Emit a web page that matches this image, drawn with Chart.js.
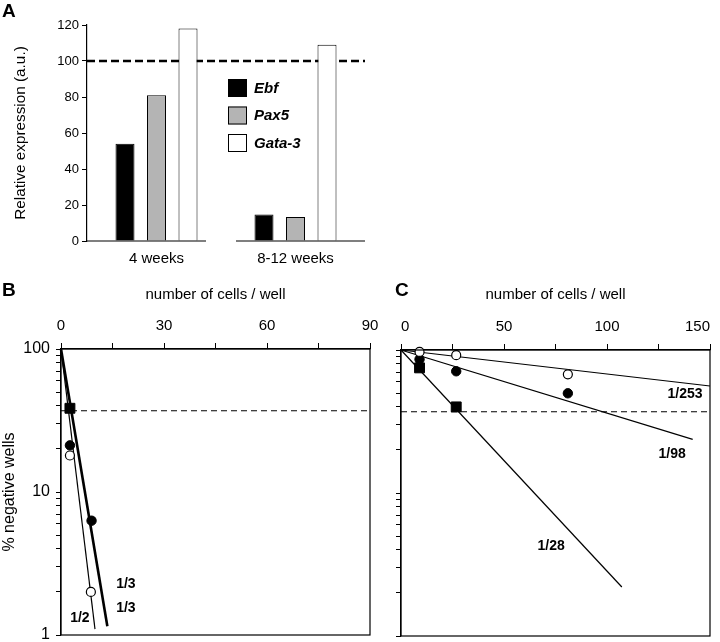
<!DOCTYPE html>
<html><head><meta charset="utf-8">
<script src="https://cdn.jsdelivr.net/npm/chart.js@4/dist/chart.umd.min.js"></script>
<style>
html,body{margin:0;padding:0;background:#fff;}
body{width:720px;height:642px;position:relative;overflow:hidden;font-family:'Liberation Sans',Arial,sans-serif;}
.panel{position:absolute;}
.letter{position:absolute;font-weight:bold;font-size:19px;line-height:20px;color:#000;}
</style></head><body>
<div class="panel" style="left:0;top:0;width:380px;height:271px"><canvas id="chartA" width="380" height="271"></canvas></div>
<div class="panel" style="left:0;top:280px;width:380px;height:362px"><canvas id="chartB" width="380" height="362"></canvas></div>
<div class="panel" style="left:380px;top:280px;width:340px;height:362px"><canvas id="chartC" width="340" height="362"></canvas></div>
<div class="letter" style="left:2px;top:1px">A</div>
<div class="letter" style="left:2px;top:280px">B</div>
<div class="letter" style="left:395px;top:280px">C</div>
<script>
// ---------- Panel A data ----------
const categoriesA = ['4 weeks', '8-12 weeks'];
const ebfValues = [54, 14.7];
const pax5Values = [81, 13.3];
const gata3Values = [118, 109];
const referenceA = 100;
const yTicksA = [0, 20, 40, 60, 80, 100, 120];

// ---------- Panel B data ----------
const bSquareCells = [2.6];
const bSquareNeg = [38.5];
const bFilledCells = [2.6, 8.9];
const bFilledNeg = [21.2, 6.3];
const bOpenCells = [2.6, 8.7];
const bOpenNeg = [18, 2.0];
const bFitThirdCells = [0, 13.5];
const bFitThirdNeg = [100, 1.15];
const bFitHalfCells = [0, 9.9];
const bFitHalfNeg = [100, 1.1];
const bLabelText = ['1/3', '1/3', '1/2'];
const bLabelCells = [18.9, 18.9, 5.5];
const bLabelNeg = [2.25, 1.55, 1.32];
const bXTickLabels = [0, 30, 60, 90];
const bYTickLabels = [1, 10, 100];
const referenceB = 37;

// ---------- Panel C data ----------
const cOpenCells = [9, 26.8, 81];
const cOpenNeg = [97, 92, 67.6];
const cFilledCells = [9, 26.8, 81];
const cFilledNeg = [86, 71, 49.8];
const cSquareCells = [9, 26.8];
const cSquareNeg = [75, 40];
const cFit253Cells = [0, 150];
const cFit253Neg = [100, 56];
const cFit98Cells = [0, 141.6];
const cFit98Neg = [100, 23.7];
const cFit28Cells = [0, 107.2];
const cFit28Neg = [100, 2.2];
const cLabelText = ['1/253', '1/98', '1/28'];
const cLabelCells = [137.9, 131.6, 72.9];
const cLabelNeg = [49.2, 18.7, 4.26];
const cXTickLabels = [0, 50, 100, 150];
const referenceC = 37;

Chart.defaults.font.family = "'Liberation Sans', Arial, sans-serif";
Chart.defaults.color = '#000';

const pts = (xs, ys) => xs.map((x, i) => ({x: x, y: ys[i]}));

// ---------- plugins ----------
const refLinePlugin = (value, width, dash) => ({
  id: 'refLine',
  beforeDatasetsDraw(chart) {
    const {ctx, chartArea} = chart;
    const y = chart.scales.y.getPixelForValue(value);
    ctx.save();
    ctx.strokeStyle = '#000';
    ctx.lineWidth = width;
    ctx.setLineDash(dash);
    ctx.beginPath();
    ctx.moveTo(chartArea.left, y);
    ctx.lineTo(chartArea.right, y);
    ctx.stroke();
    ctx.restore();
  }
});

const baselinePlugin = {
  id: 'splitBaseline',
  afterDraw(chart) {
    const {ctx, chartArea} = chart;
    const xs = chart.scales.x;
    const y0 = chart.scales.y.getPixelForValue(0);
    const n = xs.ticks.length;
    const w = (chartArea.right - chartArea.left) / n;
    ctx.save();
    ctx.strokeStyle = '#000';
    ctx.lineWidth = 1.2;
    for (let i = 0; i < n; i++) {
      const a = i === 0 ? chartArea.left : chartArea.left + i * w + 10;
      const b = i === n - 1 ? chartArea.right : chartArea.left + (i + 1) * w - 20;
      ctx.beginPath();
      ctx.moveTo(a, y0);
      ctx.lineTo(b, y0);
      ctx.stroke();
    }
    ctx.restore();
  }
};

const legendPlugin = {
  id: 'insideLegend',
  afterDraw(chart) {
    const {ctx, chartArea} = chart;
    const x0 = chartArea.left + 141;
    const y0 = chartArea.top + 54;
    ctx.save();
    ctx.font = "italic bold 15px 'Liberation Sans', Arial, sans-serif";
    ctx.textBaseline = 'middle';
    ctx.textAlign = 'left';
    chart.data.datasets.forEach((ds, i) => {
      const y = y0 + i * 27.5;
      ctx.fillStyle = ds.backgroundColor;
      ctx.fillRect(x0, y, 19, 18);
      ctx.strokeStyle = '#000';
      ctx.lineWidth = 1;
      ctx.strokeRect(x0 + 0.5, y + 0.5, 18, 17);
      ctx.fillStyle = '#000';
      ctx.fillText(ds.label, x0 + 26, y + 9.5);
    });
    ctx.restore();
  }
};

const boxPlugin = {
  id: 'frameBox',
  afterDraw(chart) {
    const {ctx, chartArea} = chart;
    ctx.save();
    ctx.strokeStyle = '#000';
    ctx.lineWidth = 1.2;
    ctx.strokeRect(chartArea.left, chartArea.top, chartArea.right - chartArea.left, chartArea.bottom - chartArea.top);
    ctx.restore();
  }
};

const textPlugin = (texts, xs, ys) => ({
  id: 'slopeLabels',
  afterDatasetsDraw(chart) {
    const {ctx} = chart;
    ctx.save();
    ctx.font = "bold 14px 'Liberation Sans', Arial, sans-serif";
    ctx.fillStyle = '#000';
    ctx.textAlign = 'center';
    ctx.textBaseline = 'middle';
    texts.forEach((t, i) => {
      ctx.fillText(t, chart.scales.x.getPixelForValue(xs[i]), chart.scales.y.getPixelForValue(ys[i]));
    });
    ctx.restore();
  }
});

const noScalePadding = s => { s.paddingLeft = 0; s.paddingRight = 0; s.paddingTop = 0; s.paddingBottom = 0; };

// ---------- Panel A ----------
new Chart(document.getElementById('chartA'), {
  type: 'bar',
  data: {
    labels: categoriesA,
    datasets: [
      {label: 'Ebf', data: ebfValues, backgroundColor: '#000000', borderColor: '#000', borderWidth: 1},
      {label: 'Pax5', data: pax5Values, backgroundColor: '#b4b4b4', borderColor: '#000', borderWidth: 1},
      {label: 'Gata-3', data: gata3Values, backgroundColor: '#ffffff', borderColor: '#000', borderWidth: 1}
    ]
  },
  options: {
    responsive: false,
    animation: false,
    layout: {padding: {top: 25, right: 15, left: 0, bottom: 0}, autoPadding: false},
    plugins: {legend: {display: false}, tooltip: {enabled: false}},
    datasets: {bar: {categoryPercentage: 0.68, barPercentage: 0.603}},
    scales: {
      x: {
        grid: {display: false, drawTicks: false},
        border: {display: false},
        ticks: {font: {size: 15}, padding: 9, color: '#000'},
        afterFit: s => { noScalePadding(s); s.height = 30; }
      },
      y: {
        min: 0, max: 120,
        afterBuildTicks: s => { s.ticks = yTicksA.map(v => ({value: v})); },
        ticks: {font: {size: 13}, padding: 3, color: '#000'},
        grid: {drawOnChartArea: false, tickLength: 5, color: '#000', lineWidth: 1},
        border: {color: '#000', width: 1.2},
        title: {display: true, text: 'Relative expression (a.u.)', font: {size: 15.3}, color: '#000', padding: {top: 12}},
        afterFit: s => { noScalePadding(s); s.width = 87; }
      }
    }
  },
  plugins: [refLinePlugin(referenceA, 2.6, [8, 4]), baselinePlugin, legendPlugin]
});

// ---------- shared builders for B and C ----------
function logTicksFilter(s) {
  s.ticks = s.ticks.filter(t => {
    const e = Math.floor(Math.log10(t.value) + 1e-9);
    const sig = t.value / Math.pow(10, e);
    return Math.abs(sig - Math.round(sig)) < 1e-6;
  });
}

function pointSets(openXY, filledXY, squareXY) {
  return [
    {label: 'open', data: openXY, pointStyle: 'circle', pointRadius: 4.5, backgroundColor: '#fff', borderColor: '#000', borderWidth: 1.2, showLine: false, clip: false},
    {label: 'filled', data: filledXY, pointStyle: 'circle', pointRadius: 4.7, backgroundColor: '#000', borderColor: '#000', borderWidth: 1, showLine: false, clip: false},
    {label: 'square', data: squareXY, pointStyle: 'rect', pointRadius: 7, backgroundColor: '#000', borderColor: '#000', borderWidth: 1, showLine: false, clip: false}
  ];
}
function fitSet(xy, width) {
  return {label: 'fit', data: xy, showLine: true, pointRadius: 0, borderColor: '#000', borderWidth: width, fill: false, clip: false};
}

// ---------- Panel B ----------
new Chart(document.getElementById('chartB'), {
  type: 'scatter',
  data: {
    datasets: [
      ...pointSets(pts(bOpenCells, bOpenNeg), pts(bFilledCells, bFilledNeg), pts(bSquareCells, bSquareNeg)),
      fitSet(pts(bFitThirdCells, bFitThirdNeg), 2.6),
      fitSet(pts(bFitHalfCells, bFitHalfNeg), 1.2)
    ]
  },
  options: {
    responsive: false,
    animation: false,
    layout: {padding: {top: 0, right: 10, left: 0, bottom: 7}, autoPadding: false},
    plugins: {legend: {display: false}, tooltip: {enabled: false}},
    scales: {
      x: {
        type: 'linear', position: 'top', min: 0, max: 90,
        ticks: {stepSize: 15, autoSkip: false, maxRotation: 0, font: {size: 15}, padding: 8, color: '#000',
          callback: v => bXTickLabels.includes(v) ? String(v) : ''},
        grid: {drawOnChartArea: false, tickLength: 6, color: '#000'},
        border: {color: '#000', width: 1.2},
        title: {display: true, text: 'number of cells / well', font: {size: 15}, color: '#000', padding: {top: 6}},
        afterFit: s => { noScalePadding(s); s.height = 69; }
      },
      y: {
        type: 'logarithmic', min: 1, max: 100,
        afterBuildTicks: logTicksFilter,
        ticks: {autoSkip: false, font: {size: 16}, padding: 6, color: '#000',
          callback: v => bYTickLabels.some(t => Math.abs(t - v) < 1e-6) ? String(Math.round(v)) : ''},
        grid: {drawOnChartArea: false, tickLength: 5, color: '#000'},
        border: {color: '#000', width: 1.2},
        title: {display: true, text: '% negative wells', font: {size: 16}, color: '#000', padding: {top: 0}},
        afterFit: s => { noScalePadding(s); s.width = 61; }
      }
    }
  },
  plugins: [refLinePlugin(referenceB, 1.2, [6, 4]), boxPlugin, textPlugin(bLabelText, bLabelCells, bLabelNeg)]
});

// ---------- Panel C ----------
new Chart(document.getElementById('chartC'), {
  type: 'scatter',
  data: {
    datasets: [
      ...pointSets(pts(cOpenCells, cOpenNeg), pts(cFilledCells, cFilledNeg), pts(cSquareCells, cSquareNeg)),
      fitSet(pts(cFit253Cells, cFit253Neg), 1.2),
      fitSet(pts(cFit98Cells, cFit98Neg), 1.2),
      fitSet(pts(cFit28Cells, cFit28Neg), 1.2)
    ]
  },
  options: {
    responsive: false,
    animation: false,
    layout: {padding: {top: 0, right: 10, left: 0, bottom: 6}, autoPadding: false},
    plugins: {legend: {display: false}, tooltip: {enabled: false}},
    scales: {
      x: {
        type: 'linear', position: 'top', min: 0, max: 150,
        ticks: {stepSize: 25, autoSkip: false, maxRotation: 0, align: 'inner', font: {size: 15}, padding: 8, color: '#000',
          callback: v => cXTickLabels.includes(v) ? String(v) : ''},
        grid: {drawOnChartArea: false, tickLength: 6, color: '#000'},
        border: {color: '#000', width: 1.2},
        title: {display: true, text: 'number of cells / well', font: {size: 15}, color: '#000', padding: {top: 6}},
        afterFit: s => { noScalePadding(s); s.height = 70; }
      },
      y: {
        type: 'logarithmic', min: 1, max: 100,
        afterBuildTicks: logTicksFilter,
        ticks: {display: false},
        grid: {drawOnChartArea: false, tickLength: 5, color: '#000'},
        border: {color: '#000', width: 1.2},
        afterFit: s => { noScalePadding(s); s.width = 21; }
      }
    }
  },
  plugins: [refLinePlugin(referenceC, 1.2, [6, 4]), boxPlugin, textPlugin(cLabelText, cLabelCells, cLabelNeg)]
});
</script>
</body></html>
